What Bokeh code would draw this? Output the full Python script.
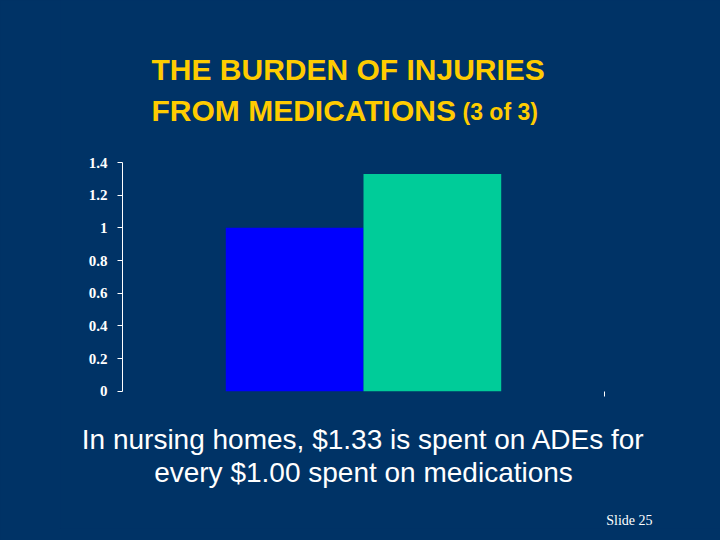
from bokeh.plotting import figure
from bokeh.models import Range1d, Label, FixedTicker, LinearAxis
from bokeh.embed import file_html
from bokeh.resources import INLINE

# data
categories = ["Medications", "ADEs"]
spent = [1.00, 1.33]
bar_colors = ["#0000FF", "#00CC99"]
y_ticks = [0, 0.2, 0.4, 0.6, 0.8, 1, 1.2, 1.4]

title_1 = "THE BURDEN OF INJURIES"
title_2 = "FROM MEDICATIONS"
title_part = "(3 of 3)"
caption_1 = "In nursing homes, $1.33 is spent on ADEs for"
caption_2 = "every $1.00 spent on medications"
slide_no = "Slide 25"

bg = "#003366"
gold = "#FFCC00"

# page layout: the frame covers the slide, the chart axes sit inside it
W, H = 720, 540
left_px, right_px = 122, 604       # x = 0 and x = 3.5
zero_px, top_px = 390.7, 162       # y = 0 and y = 1.4
frame_l, frame_b = 60, 528
ppx = (right_px - left_px) / 3.5
ppy = (zero_px - top_px) / 1.4


def dx(px):
    return (px - left_px) / ppx


def dy(py):
    return (zero_px - py) / ppy


p = figure(width=W, height=H, output_backend="svg", toolbar_location=None,
           x_range=Range1d(dx(frame_l), dx(W)), y_range=Range1d(dy(frame_b), dy(0)),
           min_border_left=frame_l, min_border_right=0,
           min_border_top=0, min_border_bottom=H - frame_b,
           x_axis_type=None, y_axis_type=None)
p.background_fill_color = bg
p.border_fill_color = bg
p.outline_line_color = None
p.grid.visible = False
p.styles = {"background-color": bg}

# bars sit side by side, one unit wide
xs = [1.25 + i for i in range(len(categories))]
p.vbar(x=xs, top=spent, width=1.0, bottom=0, fill_color=bar_colors, line_color=None)

yax = LinearAxis(ticker=FixedTicker(ticks=y_ticks), fixed_location=0, bounds=(0, 1.4))
yax.axis_line_color = "white"
yax.major_tick_line_color = "white"
yax.major_tick_in = 0
yax.major_tick_out = 5
yax.minor_tick_line_color = None
yax.major_label_standoff = 10
yax.major_label_text_color = "white"
yax.major_label_text_font = "Liberation Serif"
yax.major_label_text_font_style = "bold"
yax.major_label_text_font_size = "15px"
yax.major_label_overrides = {0: "0", 1: "1"}
p.add_layout(yax, "left")

xax = LinearAxis(ticker=FixedTicker(ticks=[3.5]), fixed_location=0)
xax.axis_line_color = None
xax.major_tick_line_color = "white"
xax.major_tick_in = 0
xax.major_tick_out = 5
xax.minor_tick_line_color = None
xax.major_label_standoff = 0
xax.major_label_overrides = {3.5: ""}
p.add_layout(xax, "below")

# texts placed by the middle of their capitals
for txt, x, y, size in [(title_1, 151, 69, "30px"), (title_2, 151, 110, "30px"),
                        (title_part, 462, 111, "23px")]:
    p.add_layout(Label(x=dx(x), y=dy(y), text=txt, text_color=gold,
                       text_baseline="middle", text_font="Liberation Sans",
                       text_font_style="bold", text_font_size=size))

for txt, y in [(caption_1, 439), (caption_2, 472)]:
    p.add_layout(Label(x=dx(363), y=dy(y), text=txt, text_color="white",
                       text_align="center", text_baseline="middle",
                       text_font="Liberation Sans", text_font_size="28px"))

p.add_layout(Label(x=dx(652), y=dy(519.5), text=slide_no, text_color="white",
                   text_align="right", text_baseline="middle",
                   text_font="Liberation Serif", text_font_size="14px"))

open("out.html", "w").write(file_html(p, INLINE))
